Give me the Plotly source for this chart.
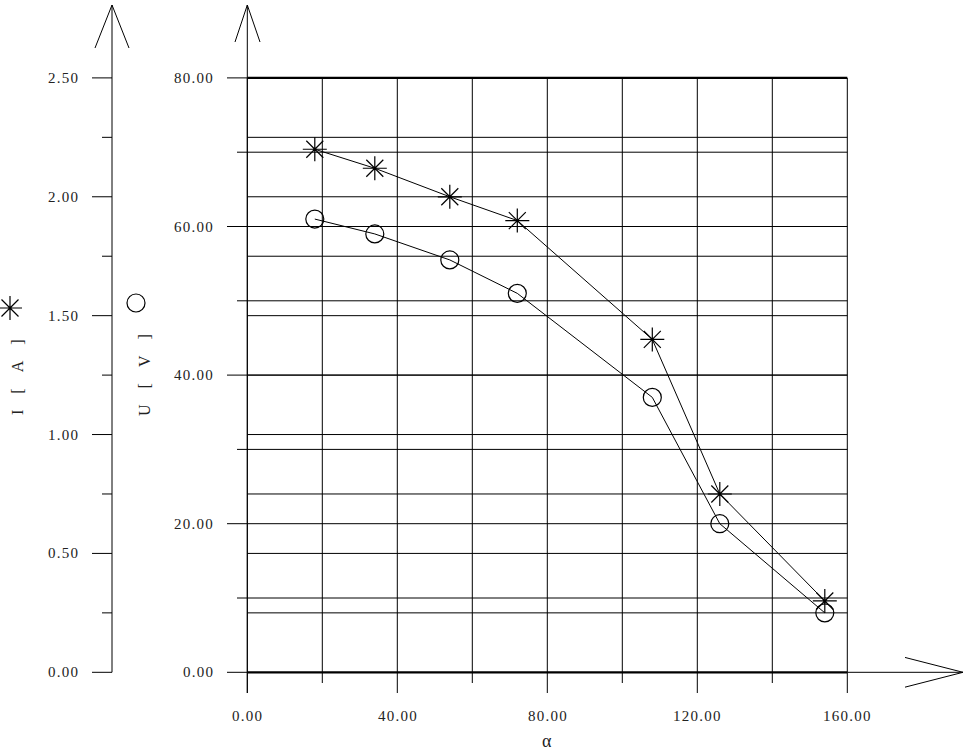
import plotly.graph_objects as go

# ---------------- data ----------------
alpha = [18, 34, 54, 72, 108, 126, 154]
current_I = [2.20, 2.12, 2.00, 1.90, 1.40, 0.75, 0.30]
voltage_U = [61.0, 59.0, 55.5, 51.0, 37.0, 20.0, 8.0]

x_ticks = [0, 40, 80, 120, 160]
x_minor = [20, 60, 100, 140]
u_ticks = [0, 20, 40, 60, 80]
u_minor = [10, 30, 50, 70]
i_ticks = [0.0, 0.5, 1.0, 1.5, 2.0, 2.5]
i_minor = [0.25, 0.75, 1.25, 1.75, 2.25]

# ---------------- geometry (data units) ----------------
W, H = 964, 754
X0PX, XSCALE = 247.3, 3.75          # px of x=0, px per unit
Y0PX, USCALE = 672.3, 7.43          # px of U=0, px per unit
IMAX, UMAX = 2.5, 80.0
k = IMAX / UMAX                      # I per U

x_range = [-X0PX / XSCALE, (W - X0PX) / XSCALE]
u_range = [(Y0PX - H) / USCALE, Y0PX / USCALE]
i_range = [u_range[0] * k, u_range[1] * k]

def px2x(p):
    return (p - X0PX) / XSCALE

def px2u(p):
    return (Y0PX - p) / USCALE

def px2i(p):
    return px2u(p) * k

X_IAX = px2x(112)
FONT = "Liberation Serif"
HS = "\u200a"
EM = "\u2003"

def spaced(s):
    return HS.join(s)

shapes = []

def ln(x0, y0, x1, y1, yref="y", w=1.0):
    shapes.append(dict(type="line", xref="x", yref=yref, x0=x0, y0=y0, x1=x1, y1=y1,
                       line=dict(color="black", width=w), layer="below"))

# vertical grid lines + x ticks
for xv in range(0, 161, 20):
    ln(xv, 0, xv, 80)
for xv in x_ticks:
    ln(xv, px2u(693), xv, 0)
for xv in x_minor:
    ln(xv, px2u(683), xv, 0)

# U grid lines and ticks
for uv in u_minor:
    ln(px2x(237), uv, 160, uv)
for uv in [20, 40, 60]:
    ln(px2x(227), uv, 160, uv)
for uv in [0, 80]:
    ln(px2x(227), uv, 0, uv)
    ln(0, uv, 160, uv, w=2.2)
# x-axis extension + arrow
ln(160, 0, px2x(963), 0)
ln(px2x(905), 2.0, px2x(963), 0)
ln(px2x(905), -2.0, px2x(963), 0)
# U axis + arrow
ln(0, px2u(693), 0, px2u(5))
ln(px2x(235), px2u(42), 0, px2u(5))
ln(px2x(260), px2u(42), 0, px2u(5))

# I grid lines
for iv in i_minor:
    ln(0, iv, 160, iv, yref="y2")
for iv in [0.5, 1.0, 1.5, 2.0]:
    ln(0, iv, 160, iv, yref="y2")
# I axis, ticks and arrow
ln(X_IAX, 0, X_IAX, px2i(5), yref="y2")
for iv in i_ticks:
    ln(px2x(92), iv, X_IAX, iv, yref="y2")
for iv in i_minor:
    ln(px2x(102), iv, X_IAX, iv, yref="y2")
ln(px2x(95), px2i(48), X_IAX, px2i(5), yref="y2")
ln(px2x(129), px2i(48), X_IAX, px2i(5), yref="y2")

TF = dict(family=FONT, size=15, color="#222222")
annotations = []
for iv in i_ticks:
    annotations.append(dict(x=px2x(80), y=iv, xref="x", yref="y2", text=spaced(f"{iv:.2f}"),
                            showarrow=False, xanchor="right", yanchor="middle", font=TF))
for uv in u_ticks:
    annotations.append(dict(x=px2x(215), y=uv, xref="x", yref="y", text=spaced(f"{uv:.2f}"),
                            showarrow=False, xanchor="right", yanchor="middle", font=TF))
for xv in x_ticks:
    annotations.append(dict(x=xv, y=px2u(716), xref="x", yref="y", text=spaced(f"{xv:.2f}"),
                            showarrow=False, xanchor="center", yanchor="middle", font=TF))
annotations.append(dict(x=80, y=px2u(741), xref="x", yref="y", text="α", showarrow=False,
                        xanchor="center", yanchor="middle",
                        font=dict(family=FONT, size=18, color="#222222")))
annotations.append(dict(x=px2x(17), y=px2u(377), xref="x", yref="y",
                        text=EM.join(["I", "[", "A", "]"]),
                        showarrow=False, textangle=-90, xanchor="center", yanchor="middle",
                        font=dict(family=FONT, size=16, color="#222222")))
annotations.append(dict(x=px2x(144), y=px2u(375), xref="x", yref="y",
                        text=EM.join(["U", "[", "V", "]"]),
                        showarrow=False, textangle=-90, xanchor="center", yanchor="middle",
                        font=dict(family=FONT, size=16, color="#222222")))

fig = go.Figure()
fig.add_trace(go.Scatter(x=alpha, y=voltage_U, mode="lines+markers", yaxis="y",
                         line=dict(color="black", width=1),
                         marker=dict(symbol="circle-open", size=18, color="black",
                                     line=dict(width=1.2, color="black")),
                         showlegend=False))
fig.add_trace(go.Scatter(x=alpha, y=current_I, mode="lines+markers", yaxis="y2",
                         line=dict(color="black", width=1),
                         marker=dict(symbol="asterisk-open", size=20, color="black",
                                     line=dict(width=1.2, color="black")),
                         showlegend=False))
# legend keys beside the axis titles
fig.add_trace(go.Scatter(x=[px2x(136)], y=[px2u(303)], mode="markers", yaxis="y",
                         marker=dict(symbol="circle-open", size=18, color="black",
                                     line=dict(width=1.2, color="black")),
                         showlegend=False, hoverinfo="skip"))
fig.add_trace(go.Scatter(x=[px2x(10)], y=[px2u(308)], mode="markers", yaxis="y",
                         marker=dict(symbol="asterisk-open", size=20, color="black",
                                     line=dict(width=1.2, color="black")),
                         showlegend=False, hoverinfo="skip"))

fig.update_layout(
    width=W, height=H, margin=dict(l=0, r=0, t=0, b=0),
    paper_bgcolor="white", plot_bgcolor="white",
    xaxis=dict(range=x_range, visible=False, fixedrange=True),
    yaxis=dict(range=u_range, visible=False, fixedrange=True),
    yaxis2=dict(range=i_range, visible=False, overlaying="y", side="left", fixedrange=True),
    shapes=shapes, annotations=annotations,
)

fig.write_html("out.html", config={"displayModeBar": False},
               post_script="document.body.style.margin='0';")
